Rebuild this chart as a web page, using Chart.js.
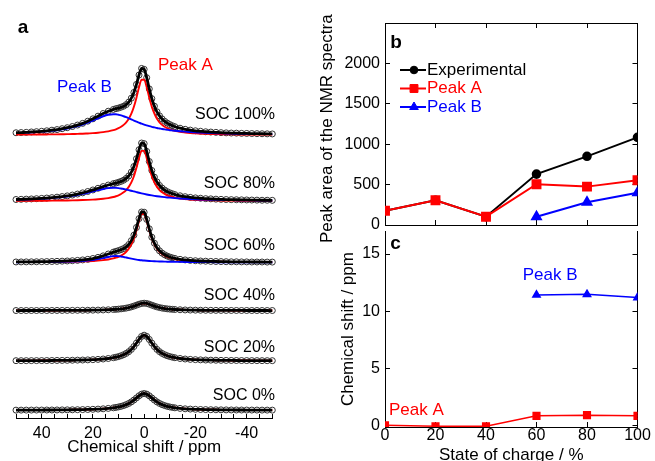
<!DOCTYPE html>
<html>
<head>
<meta charset="utf-8">
<script src="https://cdn.jsdelivr.net/npm/chart.js@4/dist/chart.umd.min.js"></script>
<style>
html,body{margin:0;padding:0;background:#fff;width:655px;height:461px;overflow:hidden;position:relative}
canvas{position:absolute;display:block}
#ca{left:0;top:0;width:300px;height:461px}
#cb{left:320px;top:0;width:335px;height:252px}
#cc{left:320px;top:225px;width:335px;height:246px}
</style>
</head>
<body>
<canvas id="ca" width="300" height="461"></canvas>
<canvas id="cb" width="335" height="252"></canvas>
<canvas id="cc" width="335" height="246"></canvas>
<script>
// ---------------- DATA ----------------
// Panel a: chemical shift grid (ppm)
const shiftGrid = [50,48,46,44,42,40,38,36,34,32,30,28,26,24,22,20,18,16,14,
  12,11,10,9,8,7,6,5,4,3,2,1,0,-1,-2,-3,-4,-5,-6,-7,-8,-9,-10,-11,-12,
  -14,-16,-18,-20,-22,-24,-26,-28,-30,-32,-34,-36,-38,-40,-42,-44,-46,-48,-50];
const socNames = ['SOC 100%','SOC 80%','SOC 60%','SOC 40%','SOC 20%','SOC 0%'];
// vertical stacking offset of each spectrum (intensity units)
const specOffsets = [286.5, 219.5, 157.5, 108.7, 57.8, 7.8];

// measured spectra (intensity, arbitrary units)
const spec100 = [2.2,2.4,2.6,3.0,3.3,3.7,4.2,4.8,5.4,6.3,7.3,8.5,10.0,11.7,13.9,16.3,19.0,21.7,24.0,
  25.8,26.6,27.2,28.1,29.1,30.7,33.2,37.2,43.0,51.1,60.6,67.3,66.4,57.9,46.6,36.7,29.1,23.4,19.3,16.2,13.8,12.0,10.5,9.3,8.3,
  6.8,5.7,4.9,4.2,3.7,3.2,2.9,2.6,2.3,2.1,1.9,1.8,1.6,1.5,1.4,1.3,1.2,1.1,1.0];
const spec80 = [1.65,1.83,2.01,2.23,2.48,2.77,3.12,3.53,4.03,4.61,5.31,6.15,7.16,8.36,9.75,11.3,13.0,14.7,16.3,
  17.7,18.3,19.1,20.0,21.2,23.0,25.5,29.4,35.0,42.9,52.0,58.8,58.2,50.3,40.1,31.0,24.3,19.4,15.8,13.2,11.2,9.6,8.4,7.5,6.6,
  5.4,4.5,3.8,3.3,2.9,2.5,2.3,2.0,1.8,1.6,1.5,1.4,1.3,1.2,1.1,1.0,0.9,0.9,0.8];
const spec60 = [0.43,0.47,0.53,0.58,0.65,0.73,0.82,0.92,1.06,1.23,1.43,1.69,2.03,2.49,3.09,3.92,5.07,6.60,8.47,
  10.4,11.2,12.0,12.9,14.0,15.7,18.1,22.0,27.5,35.3,44.3,51.0,50.8,43.5,34.0,25.5,19.4,14.8,11.7,9.4,7.7,6.4,5.4,4.6,4.0,
  3.1,2.5,2.0,1.7,1.4,1.2,1.0,0.9,0.8,0.7,0.6,0.6,0.5,0.5,0.4,0.4,0.4,0.3,0.3];
const spec40 = [0.07,0.08,0.09,0.10,0.10,0.12,0.13,0.14,0.16,0.18,0.20,0.23,0.27,0.31,0.37,0.44,0.54,0.67,0.85,
  1.11,1.28,1.5,1.77,2.11,2.53,3.07,3.75,4.57,5.51,6.47,7.21,7.5,7.21,6.47,5.51,4.57,3.75,3.07,2.53,2.11,1.77,1.5,1.28,1.11,
  0.85,0.67,0.54,0.44,0.37,0.31,0.27,0.23,0.20,0.18,0.16,0.14,0.13,0.12,0.10,0.10,0.09,0.08,0.07];
const spec20 = [0.21,0.23,0.25,0.27,0.30,0.33,0.36,0.40,0.45,0.50,0.57,0.65,0.76,0.88,1.04,1.25,1.53,1.91,2.43,
  3.21,3.73,4.38,5.2,6.25,7.6,9.36,11.63,14.52,18.0,21.71,24.78,26,24.78,21.71,18.0,14.52,11.63,9.36,7.6,6.25,5.2,4.38,3.73,3.21,
  2.43,1.91,1.53,1.25,1.04,0.88,0.76,0.65,0.57,0.50,0.45,0.40,0.36,0.33,0.30,0.27,0.25,0.23,0.21];
const spec0 = [0.17,0.18,0.20,0.22,0.24,0.26,0.29,0.32,0.36,0.41,0.46,0.53,0.61,0.71,0.83,1.0,1.22,1.51,1.92,
  2.51,2.91,3.4,4.01,4.78,5.74,6.97,8.5,10.37,12.5,14.66,16.35,17,16.35,14.66,12.5,10.37,8.5,6.97,5.74,4.78,4.01,3.4,2.91,2.51,
  1.92,1.51,1.22,1.0,0.83,0.71,0.61,0.53,0.46,0.41,0.36,0.32,0.29,0.26,0.24,0.22,0.20,0.18,0.17];

// fitted components
const fitA100 = [0.3,0.3,0.3,0.4,0.4,0.4,0.5,0.6,0.6,0.7,0.8,0.9,1.1,1.2,1.5,1.8,2.2,2.8,3.6,
  4.8,5.7,6.8,8.3,10.2,12.8,16.4,21.5,28.5,37.7,48.2,55.9,55.9,48.2,37.7,28.5,21.5,16.4,12.8,10.2,8.3,6.8,5.7,4.8,4.1,
  3.1,2.5,2.0,1.6,1.4,1.1,1.0,0.9,0.7,0.7,0.6,0.5,0.5,0.4,0.4,0.4,0.3,0.3,0.3];
const fitB100 = [1.9,2.1,2.3,2.6,2.9,3.3,3.7,4.2,4.8,5.6,6.5,7.6,8.9,10.5,12.4,14.5,16.8,18.9,20.4,
  21.0,20.9,20.4,19.8,18.9,17.9,16.8,15.7,14.5,13.4,12.4,11.4,10.5,9.7,8.9,8.2,7.6,7.0,6.5,6.0,5.6,5.2,4.8,4.5,4.2,
  3.7,3.3,2.9,2.6,2.3,2.1,1.9,1.7,1.6,1.5,1.3,1.2,1.1,1.1,1.0,0.9,0.9,0.8,0.8];
const fitA80 = [0.24,0.27,0.29,0.32,0.35,0.38,0.42,0.47,0.53,0.60,0.68,0.78,0.91,1.07,1.27,1.53,1.89,2.39,3.10,
  4.18,4.93,5.90,7.17,8.86,11.2,14.4,18.9,25.2,33.8,43.5,50.9,50.9,43.5,33.8,25.2,18.9,14.4,11.2,8.86,7.17,5.90,4.93,4.18,3.58,
  2.71,2.12,1.70,1.39,1.16,0.98,0.84,0.73,0.64,0.56,0.50,0.45,0.40,0.36,0.33,0.30,0.28,0.25,0.23];
const fitB80 = [1.41,1.56,1.72,1.91,2.13,2.39,2.70,3.06,3.50,4.01,4.63,5.37,6.25,7.29,8.48,9.79,11.1,12.3,13.2,
  13.5,13.4,13.2,12.8,12.3,11.8,11.1,10.5,9.79,9.13,8.48,7.87,7.29,6.75,6.25,5.79,5.37,4.98,4.63,4.30,4.01,3.74,3.50,3.27,3.06,
  2.70,2.39,2.13,1.91,1.72,1.56,1.41,1.29,1.18,1.08,1.0,0.92,0.85,0.79,0.74,0.69,0.65,0.61,0.57];
const fitA60 = [0.23,0.25,0.28,0.30,0.33,0.37,0.41,0.45,0.51,0.58,0.65,0.75,0.87,1.03,1.22,1.47,1.82,2.30,2.98,
  4.02,4.74,5.67,6.89,8.52,10.8,13.8,18.2,24.2,32.5,41.8,48.9,48.9,41.8,32.5,24.2,18.2,13.8,10.8,8.52,6.89,5.67,4.74,4.02,3.44,
  2.61,2.04,1.63,1.34,1.12,0.94,0.81,0.70,0.62,0.54,0.48,0.43,0.38,0.35,0.32,0.29,0.27,0.24,0.22];
const fitB60 = [0.20,0.22,0.25,0.28,0.32,0.36,0.41,0.47,0.55,0.65,0.78,0.94,1.16,1.46,1.87,2.45,3.25,4.30,5.49,
  6.37,6.5,6.37,6.01,5.49,4.90,4.30,3.75,3.25,2.82,2.45,2.14,1.87,1.65,1.46,1.30,1.16,1.04,0.94,0.85,0.78,0.71,0.65,0.60,0.55,
  0.47,0.41,0.36,0.32,0.28,0.25,0.22,0.20,0.18,0.17,0.15,0.14,0.13,0.12,0.11,0.10,0.10,0.09,0.08];

const spectra = [spec100, spec80, spec60, spec40, spec20, spec0];
const peakAFits = [fitA100, fitA80, fitA60, spec40, spec20, spec0];
const peakBFits = [fitB100, fitB80, fitB60, null, null, null];

const shiftTickVals = [-50,-45,-40,-35,-30,-25,-20,-15,-10,-5,0,5,10,15,20,25,30,35,40,45,50];
const shiftLabelVals = [-40,-20,0,20,40];

// Panels b and c
const socPct = [0,20,40,60,80,100];
const areaExp = [177,306,103,630,850,1085];
const areaA = [177,306,103,505,475,553];
const areaB = [null,null,null,103,281,400];
const shiftA = [0.0,-0.08,-0.08,0.83,0.89,0.83];
const shiftB = [null,null,null,11.41,11.47,11.19];
const socTicks = [0,20,40,60,80,100];
const areaTicks = [0,500,1000,1500,2000];
const csTicks = [0,5,10,15];

// ---------------- STYLE / HELPERS ----------------
const FONT = "'Liberation Sans', Arial, Helvetica, sans-serif";
Chart.defaults.font.family = FONT;
Chart.defaults.font.size = 16;
Chart.defaults.color = '#000';
Chart.defaults.animation = false;
const RED = '#ff0000', BLUE = '#0000ff', BLACK = '#000000';

function fixSize(size){
  return s => {
    if (s.isHorizontal()) s.height = size; else s.width = size;
    s.paddingTop = 0; s.paddingBottom = 0; s.paddingLeft = 0; s.paddingRight = 0;
  };
}
function setTicks(vals){ return s => { s.ticks = vals.map(v => ({value: v})); }; }
function pts(xs, ys, off){ return xs.map((x,i) => ({x: x, y: ys[i] === null ? null : ys[i] + (off||0)})); }
const plainLabel = v => String(v);

const textPlugin = {
  id: 'texts',
  afterDraw(chart, args, opts){
    const ctx = chart.ctx;
    (opts.items || []).forEach(t => {
      ctx.save();
      ctx.font = (t.bold ? 'bold ' : '') + t.size + 'px ' + FONT;
      ctx.fillStyle = t.color || '#000';
      ctx.textAlign = t.align || 'left';
      ctx.textBaseline = 'middle';
      ctx.fillText(t.text, t.x, t.y);
      ctx.restore();
    });
  }
};

function drawMarker(ctx, style, x, y, r, color){
  ctx.save();
  ctx.fillStyle = color; ctx.strokeStyle = color; ctx.lineWidth = 1;
  ctx.beginPath();
  if (style === 'circle') ctx.arc(x, y, r, 0, Math.PI*2);
  else if (style === 'rect'){ const s = Math.SQRT1_2*r; ctx.rect(x-s, y-s, 2*s, 2*s); }
  else if (style === 'triangle'){
    let a = 0;
    ctx.moveTo(x + Math.sin(a)*r, y - Math.cos(a)*r); a += 2*Math.PI/3;
    ctx.lineTo(x + Math.sin(a)*r, y - Math.cos(a)*r); a += 2*Math.PI/3;
    ctx.lineTo(x + Math.sin(a)*r, y - Math.cos(a)*r);
    ctx.closePath();
  }
  ctx.fill(); ctx.stroke();
  ctx.restore();
}

const legendPlugin = {
  id: 'legendBox',
  afterDraw(chart, args, opts){
    const ctx = chart.ctx;
    const ds = chart.data.datasets;
    ds.forEach((d, i) => {
      const y = opts.rows[i];
      ctx.save();
      ctx.strokeStyle = d.borderColor; ctx.lineWidth = d.borderWidth;
      ctx.beginPath(); ctx.moveTo(opts.x0, y); ctx.lineTo(opts.x1, y); ctx.stroke();
      ctx.restore();
      drawMarker(ctx, d.pointStyle, opts.mx, y, d.pointRadius, d.borderColor);
      ctx.save();
      ctx.font = opts.size + 'px ' + FONT;
      ctx.fillStyle = d.borderColor;
      ctx.textAlign = 'left'; ctx.textBaseline = 'middle';
      ctx.fillText(d.label, opts.tx, y);
      ctx.restore();
    });
  }
};

const inwardGrid = len => ({drawOnChartArea: false, tickLength: -len, color: '#000', lineWidth: 1});
const blackBorder = {color: '#000', width: 1};

// ---------------- PANEL A ----------------
const dsA = [];
spectra.forEach((sp, k) => {
  const off = specOffsets[k];
  dsA.push({label: socNames[k] + ' data', data: pts(shiftGrid, sp, off), showLine: false,
    pointRadius: 3, pointBorderWidth: 1, pointBorderColor: '#333333', pointBackgroundColor: 'rgba(0,0,0,0)',
    order: 3, clip: false});
  dsA.push({label: socNames[k] + ' peak A', data: pts(shiftGrid, peakAFits[k], off), borderColor: RED, borderWidth: 1.9,
    pointRadius: 0, cubicInterpolationMode: 'monotone', fill: false, order: 2, clip: false});
  if (peakBFits[k]) dsA.push({label: socNames[k] + ' peak B', data: pts(shiftGrid, peakBFits[k], off), borderColor: BLUE,
    borderWidth: 1.9, pointRadius: 0, cubicInterpolationMode: 'monotone', fill: false, order: 1, clip: false});
  dsA.push({label: socNames[k] + ' fit', data: pts(shiftGrid, sp, off), borderColor: BLACK, borderWidth: 2.8,
    pointRadius: 0, cubicInterpolationMode: 'monotone', fill: false, order: 0, clip: false});
});

const socLabelY = [114.5, 184, 245.3, 296, 347.5, 396];
new Chart(document.getElementById('ca'), {
  type: 'line',
  data: {datasets: dsA},
  options: {
    responsive: false, animation: false, events: [],
    layout: {padding: {left: 16, right: 27.7, top: 0, bottom: 0}},
    plugins: {
      legend: {display: false}, tooltip: {enabled: false},
      texts: {items: [
        {text: 'a', x: 23, y: 27.5, size: 19, bold: true, align: 'center'},
        {text: 'Peak A', x: 158, y: 65, size: 17, color: RED},
        {text: 'Peak B', x: 57, y: 87.5, size: 17, color: BLUE}
      ].concat(socNames.map((n, k) => ({text: n, x: 275, y: socLabelY[k], size: 16, align: 'right'})))}
    },
    scales: {
      x: {type: 'linear', reverse: true, min: -50, max: 50, position: 'bottom',
        afterBuildTicks: setTicks(shiftTickVals), afterFit: fixSize(43),
        grid: inwardGrid(4), border: blackBorder,
        ticks: {autoSkip: false, maxRotation: 0, padding: 10, font: {size: 16}, color: '#000',
          callback: v => shiftLabelVals.includes(v) ? String(v) : ''},
        title: {display: true, text: 'Chemical shift / ppm', font: {size: 17}, color: '#000', padding: {top: 0, bottom: 3}}},
      y: {type: 'linear', display: false, min: 0, max: 418}
    }
  },
  plugins: [textPlugin]
});

// ---------------- PANEL B ----------------
new Chart(document.getElementById('cb'), {
  type: 'line',
  data: {datasets: [
    {label: 'Experimental', data: pts(socPct, areaExp), borderColor: BLACK, backgroundColor: BLACK,
      pointStyle: 'circle', pointRadius: 3.8, pointBackgroundColor: BLACK, pointBorderColor: BLACK, borderWidth: 2, order: 2},
    {label: 'Peak A', data: pts(socPct, areaA), borderColor: RED, backgroundColor: RED,
      pointStyle: 'rect', pointRadius: 5.6, pointBackgroundColor: RED, pointBorderColor: RED, borderWidth: 2, order: 0},
    {label: 'Peak B', data: pts(socPct, areaB), borderColor: BLUE, backgroundColor: BLUE,
      pointStyle: 'triangle', pointRadius: 5, pointBackgroundColor: BLUE, pointBorderColor: BLUE, borderWidth: 2, order: 1}
  ]},
  options: {
    responsive: false, animation: false, events: [],
    layout: {padding: 0},
    plugins: {
      legend: {display: false}, tooltip: {enabled: false},
      texts: {items: [{text: 'b', x: 76, y: 43, size: 19, bold: true, align: 'center'}]},
      legendBox: {rows: [70, 88.5, 107], x0: 80, x1: 106, mx: 94, tx: 107, size: 17}
    },
    scales: {
      x: {type: 'linear', min: 0, max: 100, position: 'bottom', afterBuildTicks: setTicks(socTicks), afterFit: fixSize(27),
        grid: inwardGrid(5), border: blackBorder, ticks: {display: false}},
      xTop: {type: 'linear', min: 0, max: 100, position: 'top', afterBuildTicks: setTicks(socTicks), afterFit: fixSize(23),
        grid: inwardGrid(5), border: blackBorder, ticks: {display: false}},
      y: {type: 'linear', min: 0, max: 2500, position: 'left', afterBuildTicks: setTicks(areaTicks), afterFit: fixSize(65),
        grid: inwardGrid(5), border: blackBorder, ticks: {padding: 10, font: {size: 16}, color: '#000', callback: plainLabel},
        title: {display: true, text: 'Peak area of the NMR spectra  ', font: {size: 17, lineHeight: 1}, color: '#000', padding: {top: -1, bottom: 0}}},
      yRight: {type: 'linear', min: 0, max: 2500, position: 'right', afterBuildTicks: setTicks(areaTicks), afterFit: fixSize(17.5),
        grid: inwardGrid(5), border: blackBorder, ticks: {display: false}}
    }
  },
  plugins: [textPlugin, legendPlugin]
});

// ---------------- PANEL C ----------------
new Chart(document.getElementById('cc'), {
  type: 'line',
  data: {datasets: [
    {label: 'Peak A', data: pts(socPct, shiftA), borderColor: RED, backgroundColor: RED,
      pointStyle: 'rect', pointRadius: 4.7, pointBackgroundColor: RED, pointBorderColor: RED, borderWidth: 1.5, order: 0},
    {label: 'Peak B', data: pts(socPct, shiftB), borderColor: BLUE, backgroundColor: BLUE,
      pointStyle: 'triangle', pointRadius: 4.2, pointBackgroundColor: BLUE, pointBorderColor: BLUE, borderWidth: 1.5, order: 1}
  ]},
  options: {
    responsive: false, animation: false, events: [],
    layout: {padding: 0},
    plugins: {
      legend: {display: false}, tooltip: {enabled: false},
      texts: {items: [
        {text: 'c', x: 75.5, y: 19, size: 19, bold: true, align: 'center'},
        {text: 'Peak B', x: 202.7, y: 50, size: 17, color: BLUE},
        {text: 'Peak A', x: 69, y: 185, size: 17, color: RED}
      ]}
    },
    scales: {
      x: {type: 'linear', min: 0, max: 100, position: 'bottom', afterBuildTicks: setTicks(socTicks), afterFit: fixSize(44),
        grid: inwardGrid(5), border: blackBorder,
        ticks: {autoSkip: false, maxRotation: 0, padding: 4, font: {size: 16}, color: '#000', callback: plainLabel},
        title: {display: true, text: 'State of charge / %', font: {size: 17}, color: '#000', padding: {top: 0, bottom: 5.8}}},
      y: {type: 'linear', min: -0.15, max: 17, position: 'left', afterBuildTicks: setTicks(csTicks), afterFit: fixSize(65),
        grid: inwardGrid(5), border: blackBorder, ticks: {padding: 10, font: {size: 16}, color: '#000', callback: plainLabel},
        title: {display: true, text: 'Chemical shift / ppm', font: {size: 17, lineHeight: 1}, color: '#000', padding: {top: 19.5, bottom: 0}}},
      yRight: {type: 'linear', min: -0.15, max: 17, position: 'right', afterBuildTicks: setTicks(csTicks), afterFit: fixSize(17.5),
        grid: inwardGrid(5), border: blackBorder, ticks: {display: false}}
    }
  },
  plugins: [textPlugin]
});
</script>
</body>
</html>
